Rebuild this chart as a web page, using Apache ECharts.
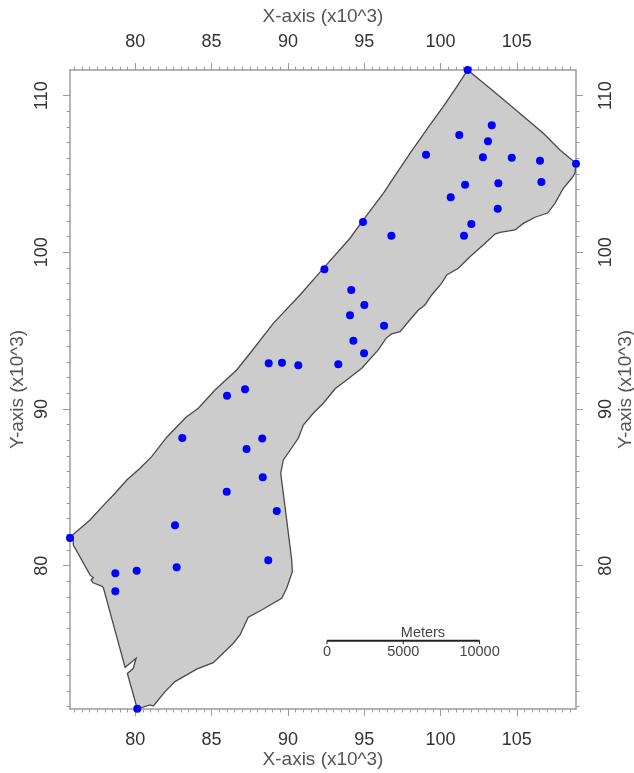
<!DOCTYPE html>
<html>
<head>
<meta charset="utf-8">
<style>html,body{margin:0;padding:0;background:#fff}#c{width:634px;height:773px}</style>
<script src="https://cdn.jsdelivr.net/npm/echarts@6/dist/echarts.min.js"></script>
</head>
<body>
<div id="c"></div>
<script>
const axisNameX = 'X-axis (x10^3)';
const axisNameY = 'Y-axis (x10^3)';
const xTicks = [80, 85, 90, 95, 100, 105];
const yTicks = [80, 90, 100, 110];
const xMinorTicks = [76,76.5,77,77.5,78,78.5,79,79.5,80.5,81,81.5,82,82.5,83,83.5,84,84.5,85.5,86,86.5,87,87.5,88,88.5,89,89.5,90.5,91,91.5,92,92.5,93,93.5,94,94.5,95.5,96,96.5,97,97.5,98,98.5,99,99.5,100.5,101,101.5,102,102.5,103,103.5,104,104.5,105.5,106,106.5,107,107.5,108,108.5];
const yMinorTicks = [71,72,73,74,75,76,77,78,79,81,82,83,84,85,86,87,88,89,91,92,93,94,95,96,97,98,99,101,102,103,104,105,106,107,108,109];
const boundaryX = [75.72,77.03,77.90,78.67,79.44,80.31,81.07,82.06,83.32,84.13,85.22,86.64,87.52,89.04,90.79,92.32,94.07,94.94,96.25,97.35,98.00,99.31,100.18,101.06,101.78,103.24,104.55,106.74,107.83,108.88,108.81,108.60,108.05,107.50,107.02,106.19,105.43,104.88,103.90,103.57,102.80,101.93,101.17,100.41,100.08,99.42,98.98,98.55,97.89,97.35,96.80,96.43,95.92,94.84,93.85,93.09,92.32,91.66,91.01,90.68,89.70,89.53,89.81,90.25,90.29,89.92,89.59,88.28,87.40,86.86,86.42,85.11,84.02,82.60,81.95,81.18,80.96,80.13,79.48,79.87,80.05,79.76,79.33,77.90,77.80,77.23,77.10,77.25,77.03,75.94,75.92];
const boundaryY = [81.81,82.92,83.83,84.62,85.47,86.22,86.96,88.20,89.47,90.05,91.21,92.49,93.56,95.47,97.28,98.98,100.90,102.07,103.77,105.37,106.32,108.13,109.30,110.57,111.64,110.47,109.41,107.60,106.53,105.68,105.05,104.73,104.09,103.13,102.51,102.24,101.85,101.43,101.28,101.17,100.47,99.72,98.98,98.56,98.03,97.28,96.64,96.32,95.57,94.94,94.79,94.51,93.77,92.60,91.85,91.29,90.37,89.73,88.98,88.13,86.75,85.90,83.77,80.36,79.62,78.56,77.92,77.17,76.71,75.58,75.05,73.81,73.39,72.60,71.96,71.04,71.11,70.85,73.12,73.45,74.09,73.85,73.51,78.62,78.70,78.91,79.09,79.23,79.41,81.32,81.74];
const pointsX = [75.72,78.69,78.69,80.09,80.13,82.71,82.60,83.08,86.01,85.99,87.19,87.29,88.32,88.35,88.71,89.27,88.74,89.61,90.68,93.30,92.39,94.15,95.01,94.07,96.30,94.29,94.99,94.92,96.78,99.05,100.67,101.61,101.54,102.02,101.23,102.78,103.11,103.36,103.79,103.75,104.67,106.52,106.61,101.78,108.88];
const pointsY = [81.77,79.51,78.37,79.68,70.87,79.90,82.58,88.15,90.85,84.72,91.26,87.45,88.11,85.64,80.34,83.49,92.92,92.96,92.79,92.85,98.92,97.60,96.64,95.98,95.32,94.36,93.56,101.94,101.06,106.23,103.51,104.32,101.06,101.81,107.49,106.07,107.09,108.11,104.41,102.79,106.04,105.85,104.49,111.64,105.66];
const scaleMeters = [0, 5000, 10000];
const scaleTitle = 'Meters';
const scaleOriginX = 92.56;
const scaleY = 75.21;
const XMIN = 75.72, XMAX = 108.88, YMIN = 70.85, YMAX = 111.64;
const AXIS_COLOR = '#9c9c9c', LABEL_COLOR = '#333333', NAME_COLOR = '#555555';
const FONT = '"Liberation Sans", Arial, sans-serif';

function majorX(position, name, gap, margin) {
  return {
    type: 'value', position, min: XMIN, max: XMAX, splitLine: {show: false},
    axisLine: {show: true, onZero: false, lineStyle: {color: AXIS_COLOR, width: 1.5}},
    axisTick: {show: true, length: 7, customValues: xTicks, lineStyle: {color: AXIS_COLOR, width: 1}},
    axisLabel: {show: true, customValues: xTicks, margin, fontSize: 18, color: LABEL_COLOR, fontFamily: FONT, hideOverlap: false, showMinLabel: true, showMaxLabel: true},
    name, nameLocation: 'middle', nameGap: gap, nameMoveOverlap: false, nameTextStyle: {fontSize: 19, color: NAME_COLOR, fontFamily: FONT}
  };
}
function minorX(position) {
  return {
    type: 'value', position, min: XMIN, max: XMAX, splitLine: {show: false},
    axisLine: {show: false, onZero: false},
    axisTick: {show: true, length: 3.5, customValues: xMinorTicks, lineStyle: {color: AXIS_COLOR, width: 1}},
    axisLabel: {show: false}
  };
}
function majorY(position, name, gap, margin) {
  return {
    type: 'value', position, min: YMIN, max: YMAX, splitLine: {show: false},
    axisLine: {show: true, onZero: false, lineStyle: {color: AXIS_COLOR, width: 1.5}},
    axisTick: {show: true, length: 7, customValues: yTicks, lineStyle: {color: AXIS_COLOR, width: 1}},
    axisLabel: {show: true, customValues: yTicks, rotate: 90, margin, fontSize: 18, color: LABEL_COLOR, fontFamily: FONT, hideOverlap: false},
    name, nameLocation: 'middle', nameGap: gap, nameRotate: 90, nameMoveOverlap: false, nameTextStyle: {fontSize: 19, color: NAME_COLOR, fontFamily: FONT}
  };
}
function minorY(position) {
  return {
    type: 'value', position, min: YMIN, max: YMAX, splitLine: {show: false},
    axisLine: {show: false, onZero: false},
    axisTick: {show: true, length: 3.5, customValues: yMinorTicks, lineStyle: {color: AXIS_COLOR, width: 1}},
    axisLabel: {show: false}
  };
}

const chart = echarts.init(document.getElementById('c'), null, {width: 634, height: 773});
chart.setOption({
  animation: false,
  backgroundColor: '#ffffff',
  grid: {left: 70, right: 58, top: 70, bottom: 64, containLabel: false, outerBoundsMode: 'none'},
  xAxis: [majorX('bottom', axisNameX, 41.5, 22), majorX('top', axisNameX, 44, 19), minorX('bottom'), minorX('top')],
  yAxis: [majorY('left', axisNameY, 42.5, 19), majorY('right', axisNameY, 40.5, 21), minorY('left'), minorY('right')],
  series: [
    {
      type: 'custom', name: 'Boundary', coordinateSystem: 'cartesian2d', z: 2, silent: true, clip: false,
      data: boundaryX.map((x, i) => [x, boundaryY[i]]),
      renderItem(params, api) {
        if (params.dataIndex !== 0) return null;
        const pts = boundaryX.map((x, i) => api.coord([x, boundaryY[i]]));
        return {type: 'polygon', shape: {points: pts}, style: {fill: '#cccccc', stroke: '#4a4a4a', lineWidth: 1.3}};
      }
    },
    {
      type: 'scatter', name: 'Points', z: 4, clip: false, symbol: 'circle', symbolSize: 8,
      itemStyle: {color: '#0000ff', opacity: 1},
      data: pointsX.map((x, i) => [x, pointsY[i]])
    },
    {
      type: 'custom', name: 'Scale', coordinateSystem: 'cartesian2d', z: 3, silent: true, clip: false,
      data: scaleMeters.map(m => [scaleOriginX + m / 1000, scaleY]),
      renderItem(params, api) {
        const i = params.dataIndex;
        const p = api.coord([api.value(0), api.value(1)]);
        const children = [
          {type: 'line', shape: {x1: p[0], y1: p[1], x2: p[0], y2: p[1] + 3.5}, style: {stroke: '#222222', lineWidth: 1}},
          {type: 'text', style: {x: p[0], y: p[1] + 11, text: String(scaleMeters[i]), fill: '#444444', font: '14.5px ' + FONT, textAlign: 'center', textVerticalAlign: 'middle'}}
        ];
        if (i === 0) {
          const e = api.coord([scaleOriginX + scaleMeters[scaleMeters.length - 1] / 1000, scaleY]);
          children.push({type: 'line', shape: {x1: p[0], y1: p[1], x2: e[0], y2: e[1]}, style: {stroke: '#222222', lineWidth: 2}});
          children.push({type: 'text', style: {x: p[0] + 96, y: p[1] - 8, text: scaleTitle, fill: '#444444', font: '14.5px ' + FONT, textAlign: 'center', textVerticalAlign: 'middle'}});
        }
        return {type: 'group', children};
      }
    }
  ]
});
</script>
</body>
</html>
